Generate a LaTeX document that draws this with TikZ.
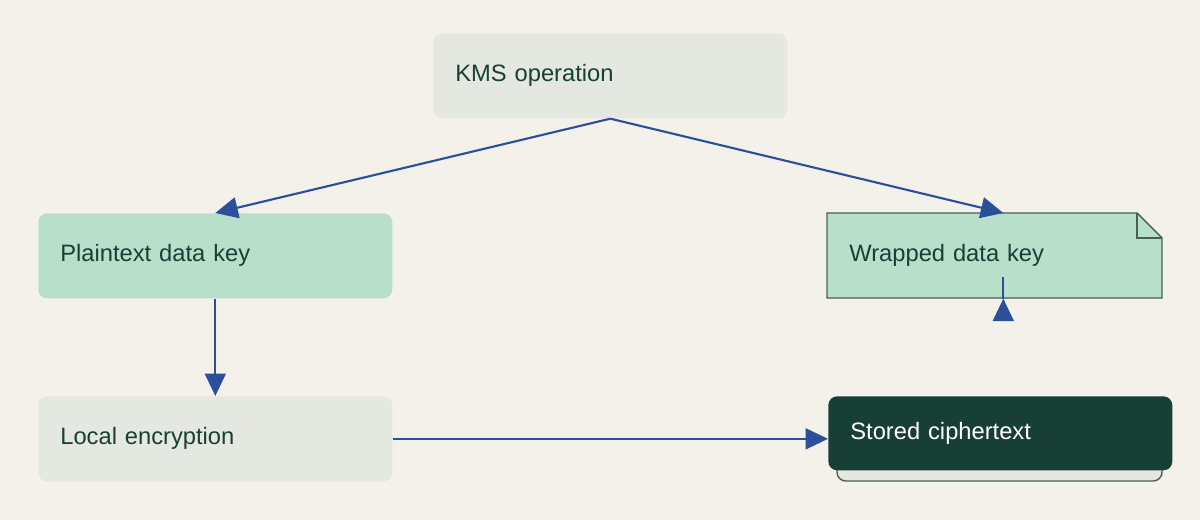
\documentclass[tikz,border=0pt]{standalone}
\usepackage{fontspec}
\setmainfont{Liberation Sans}
\usetikzlibrary{arrows.meta,positioning,calc}
\definecolor{bgcol}{HTML}{F4F1EA}
\definecolor{greycol}{HTML}{E5E8E0}
\definecolor{mintcol}{HTML}{B8DFC9}
\definecolor{darkcol}{HTML}{173F35}
\definecolor{edgecol}{HTML}{4A5E55}
\definecolor{arrowcol}{HTML}{2B4F98}

\begin{document}
\begin{tikzpicture}[x=0.02cm, y=-0.02cm,
box/.style={rectangle, rounded corners=5pt, minimum width=6.68cm, minimum height=1.7cm, font=\fontsize{13.5}{16}\selectfont, text=darkcol, align=left, text width=6.2cm, inner xsep=0.44cm},
arrow/.style={-{Triangle[length=0.45cm, width=0.42cm]}, line width=1.2pt, arrowcol}
]
\fill[bgcol] (0,0) rectangle (1200,520);
\useasboundingbox (0,0) rectangle (1200,520);

% Note shape behind the wrapped key
\filldraw[fill=mintcol, draw=edgecol, line width=0.8pt]
  (827,213) -- (1137,213) -- (1162,238) -- (1162,298) -- (827,298) -- cycle;
\draw[edgecol, line width=0.8pt] (1137,213) |- (1162,238);

% Stacked copy behind stored ciphertext
\draw[fill=greycol, draw=edgecol, line width=0.8pt, rounded corners=5pt] (837,406) rectangle (1162,481);

% Boxes
\node[box, fill=greycol, anchor=north west] (kms) at (433,33) {KMS operation};
\node[box, fill=mintcol, anchor=north west] (plain) at (38,213) {Plaintext data key};
\node[box, rounded corners=0pt, anchor=north west] (wrapped) at (827,213) {Wrapped data key};
\node[box, fill=greycol, anchor=north west] (local) at (38,396) {Local encryption};
\node[box, fill=darkcol, text=white, minimum width=6.5cm, minimum height=1.48cm, text width=6cm, anchor=north west] (stored) at (828,396) {Stored ciphertext};

% Arrows
\draw[arrow] (kms.south) -- (plain.north);
\draw[arrow] (kms.south) -- ($(wrapped.north)+(-1,0)$);
\draw[arrow] (plain.south) -- (plain.south |- local.north);
\draw[arrow] ($(wrapped.south)+(-1,0)$) -- ($(wrapped.south)+(-1,0)$ |- stored.north);
\draw[arrow] (local.east) -- (local.east -| stored.west);
\end{tikzpicture}
\end{document}
